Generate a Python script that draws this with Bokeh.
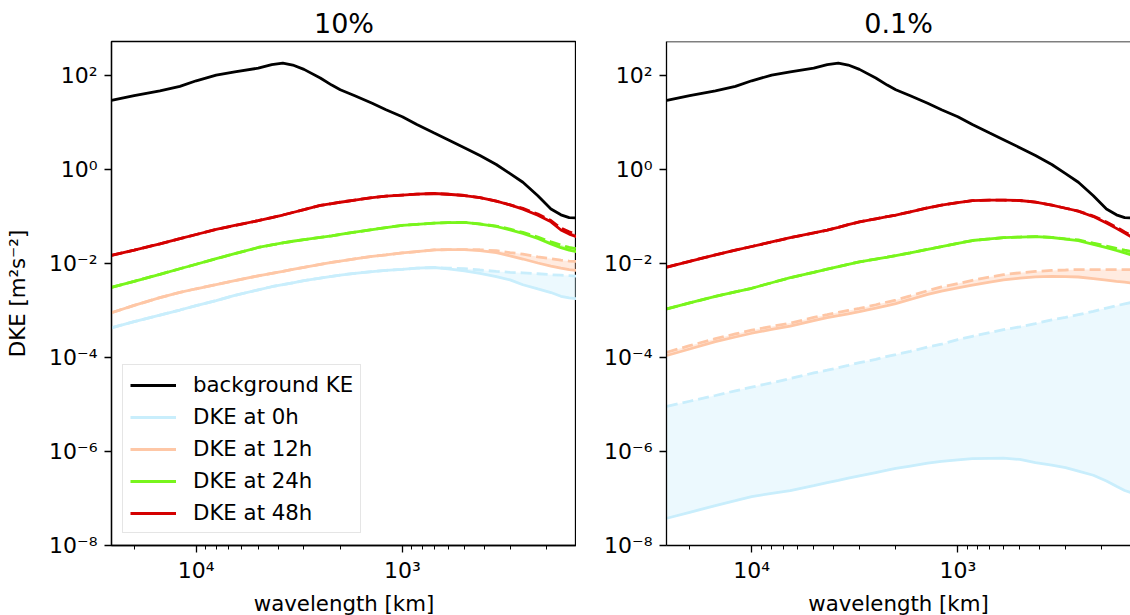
from bokeh.plotting import figure
from bokeh.models import Range1d, FixedTicker, Legend, LegendItem, Span, CustomJSTickFormatter
from bokeh.layouts import row
from bokeh.embed import file_html
from bokeh.resources import INLINE

# ---------------- data ----------------
wavelength = [25800, 20000, 15000, 12000, 10000, 8000, 6500, 5000, 4300, 3800, 3400, 3000,
              2500, 2200, 2000, 1700, 1400, 1200, 1000, 850, 700, 600, 500, 420, 350, 300,
              260, 220, 190, 170, 155, 143]

background_ke = [29.5, 37.2, 46.9, 58.3, 76.6, 101, 119, 142, 169, 183, 166, 134, 88.1, 62.1,
                 49.4, 36.7, 25.4, 18.5, 13.2, 9.0, 5.94, 4.28, 2.89, 1.97, 1.27, 0.813, 0.532,
                 0.274, 0.144, 0.108, 0.094, 0.093]

# panel "10%"
dke0_10_solid = [4.27e-4, 5.75e-4, 7.94e-4, 1.02e-3, 1.26e-3, 1.62e-3, 2.09e-3, 2.74e-3, 3.19e-3,
                 3.53e-3, 3.87e-3, 4.28e-3, 4.88e-3, 5.32e-3, 5.66e-3, 6.17e-3, 6.68e-3, 7.10e-3,
                 7.50e-3, 7.91e-3, 8.18e-3, 7.66e-3, 6.92e-3, 6.15e-3, 5.26e-3, 4.47e-3, 3.52e-3,
                 2.86e-3, 2.40e-3, 2.00e-3, 1.84e-3, 1.78e-3]
dke0_10_dashed = [4.27e-4, 5.75e-4, 7.94e-4, 1.02e-3, 1.26e-3, 1.62e-3, 2.09e-3, 2.74e-3, 3.19e-3,
                  3.53e-3, 3.87e-3, 4.28e-3, 4.88e-3, 5.32e-3, 5.66e-3, 6.17e-3, 6.68e-3, 7.10e-3,
                  7.50e-3, 7.91e-3, 8.18e-3, 7.94e-3, 7.76e-3, 7.24e-3, 6.76e-3, 6.46e-3, 6.31e-3,
                  6.03e-3, 5.75e-3, 5.62e-3, 5.50e-3, 5.37e-3]
dke12_10_solid = [8.91e-4, 1.28e-3, 1.87e-3, 2.43e-3, 2.89e-3, 3.55e-3, 4.30e-3, 5.45e-3, 6.15e-3,
                  6.79e-3, 7.43e-3, 8.26e-3, 9.51e-3, 0.0105, 0.0112, 0.0125, 0.0141, 0.0152, 0.0167,
                  0.0179, 0.0194, 0.0197, 0.0196, 0.0187, 0.0170, 0.0145, 0.0124, 0.0102, 8.79e-3,
                  7.94e-3, 7.41e-3, 7.08e-3]
dke12_10_dashed = [8.91e-4, 1.28e-3, 1.87e-3, 2.43e-3, 2.89e-3, 3.55e-3, 4.30e-3, 5.45e-3, 6.15e-3,
                   6.79e-3, 7.43e-3, 8.26e-3, 9.51e-3, 0.0105, 0.0112, 0.0125, 0.0141, 0.0152, 0.0167,
                   0.0179, 0.0194, 0.0197, 0.0197, 0.0195, 0.0186, 0.0170, 0.0158, 0.0138, 0.0126,
                   0.0117, 0.0112, 0.0110]
dke24_10_solid = [3.09e-3, 4.16e-3, 5.87e-3, 7.69e-3, 9.59e-3, 0.0126, 0.0161, 0.0218, 0.0247,
                  0.0272, 0.0296, 0.0320, 0.0357, 0.0387, 0.0413, 0.0462, 0.0525, 0.0579, 0.0647,
                  0.0678, 0.0716, 0.0736, 0.0748, 0.0687, 0.0610, 0.0519, 0.0435, 0.0339, 0.0260,
                  0.0216, 0.0191, 0.0178]
dke24_10_dashed = [3.09e-3, 4.16e-3, 5.87e-3, 7.69e-3, 9.59e-3, 0.0126, 0.0161, 0.0218, 0.0247,
                   0.0272, 0.0296, 0.0320, 0.0357, 0.0387, 0.0413, 0.0462, 0.0525, 0.0579, 0.0647,
                   0.0678, 0.0716, 0.0736, 0.0748, 0.0690, 0.0624, 0.0537, 0.0457, 0.0363, 0.0288,
                   0.0245, 0.0219, 0.0204]
dke48_10_solid = [0.0148, 0.0191, 0.0261, 0.0335, 0.0412, 0.0531, 0.0641, 0.0813, 0.0946, 0.107,
                  0.121, 0.139, 0.171, 0.187, 0.200, 0.223, 0.250, 0.270, 0.284, 0.297, 0.307,
                  0.296, 0.278, 0.251, 0.212, 0.176, 0.143, 0.106, 0.0766, 0.0513, 0.0420, 0.0372]
dke48_10_dashed = [0.0148, 0.0191, 0.0261, 0.0335, 0.0412, 0.0531, 0.0641, 0.0813, 0.0946, 0.107,
                   0.121, 0.139, 0.171, 0.187, 0.200, 0.223, 0.250, 0.270, 0.284, 0.297, 0.307,
                   0.296, 0.278, 0.251, 0.212, 0.176, 0.148, 0.112, 0.0813, 0.0562, 0.0468, 0.0417]

# panel "0.1%"
dke0_01_solid = [3.80e-8, 5.09e-8, 7.05e-8, 8.99e-8, 1.10e-7, 1.28e-7, 1.47e-7, 1.87e-7, 2.17e-7,
                 2.43e-7, 2.70e-7, 3.03e-7, 3.56e-7, 3.99e-7, 4.35e-7, 4.90e-7, 5.64e-7, 6.14e-7,
                 6.61e-7, 7.05e-7, 7.16e-7, 7.19e-7, 6.76e-7, 5.82e-7, 5.15e-7, 4.53e-7, 3.82e-7,
                 3.12e-7, 2.36e-7, 1.82e-7, 1.48e-7, 1.32e-7]
dke0_01_dashed = [9.12e-6, 1.17e-5, 1.55e-5, 1.95e-5, 2.34e-5, 2.88e-5, 3.55e-5, 4.68e-5, 5.37e-5,
                  6.03e-5, 6.76e-5, 7.76e-5, 9.12e-5, 1.05e-4, 1.15e-4, 1.35e-4, 1.66e-4, 1.91e-4,
                  2.40e-4, 2.82e-4, 3.39e-4, 3.89e-4, 4.47e-4, 5.25e-4, 6.31e-4, 7.08e-4, 8.13e-4,
                  9.55e-4, 1.12e-3, 1.26e-3, 1.38e-3, 1.48e-3]
dke12_01_solid = [1.10e-4, 1.51e-4, 2.17e-4, 2.72e-4, 3.27e-4, 3.93e-4, 4.66e-4, 6.05e-4, 7.00e-4,
                  7.73e-4, 8.47e-4, 9.38e-4, 1.12e-3, 1.27e-3, 1.40e-3, 1.71e-3, 2.19e-3, 2.58e-3,
                  3.01e-3, 3.44e-3, 3.98e-3, 4.46e-3, 4.84e-3, 5.19e-3, 5.31e-3, 5.22e-3, 5.14e-3,
                  4.74e-3, 4.41e-3, 4.16e-3, 3.98e-3, 3.80e-3]
dke12_01_dashed = [1.29e-4, 1.78e-4, 2.51e-4, 3.16e-4, 3.80e-4, 4.57e-4, 5.37e-4, 7.08e-4, 8.13e-4,
                   9.12e-4, 1.00e-3, 1.10e-3, 1.32e-3, 1.51e-3, 1.66e-3, 2.04e-3, 2.63e-3, 3.16e-3,
                   3.72e-3, 4.37e-3, 5.13e-3, 5.75e-3, 6.31e-3, 6.76e-3, 7.08e-3, 7.24e-3, 7.41e-3,
                   7.41e-3, 7.41e-3, 7.41e-3, 7.41e-3, 7.41e-3]
dke24_01_solid = [1.08e-3, 1.44e-3, 1.98e-3, 2.48e-3, 2.96e-3, 3.88e-3, 4.97e-3, 6.47e-3, 7.55e-3,
                  8.51e-3, 9.53e-3, 0.0108, 0.0124, 0.0136, 0.0146, 0.0168, 0.0199, 0.0228, 0.0268,
                  0.0307, 0.0331, 0.0352, 0.0364, 0.0372, 0.0356, 0.0330, 0.0306, 0.0255, 0.0217,
                  0.0188, 0.0167, 0.0151]
dke24_01_dashed = [1.08e-3, 1.44e-3, 1.98e-3, 2.48e-3, 2.96e-3, 3.88e-3, 4.97e-3, 6.47e-3, 7.55e-3,
                   8.51e-3, 9.53e-3, 0.0108, 0.0124, 0.0136, 0.0146, 0.0168, 0.0199, 0.0228, 0.0268,
                   0.0307, 0.0331, 0.0352, 0.0364, 0.0372, 0.0358, 0.0334, 0.0316, 0.0269, 0.0234,
                   0.0209, 0.0191, 0.0178]
dke48_01_solid = [8.36e-3, 0.0111, 0.0152, 0.0191, 0.0229, 0.0286, 0.0352, 0.0444, 0.0511, 0.0585,
                  0.0665, 0.0764, 0.0891, 0.0991, 0.107, 0.125, 0.152, 0.173, 0.196, 0.216, 0.222,
                  0.221, 0.218, 0.202, 0.174, 0.149, 0.129, 0.0991, 0.0726, 0.0556, 0.0441, 0.0363]
dke48_01_dashed = [8.36e-3, 0.0111, 0.0152, 0.0191, 0.0229, 0.0286, 0.0352, 0.0444, 0.0511, 0.0585,
                   0.0665, 0.0764, 0.0891, 0.0991, 0.107, 0.125, 0.152, 0.173, 0.196, 0.216, 0.222,
                   0.221, 0.218, 0.202, 0.174, 0.149, 0.129, 0.102, 0.0759, 0.0589, 0.0468, 0.0389]

titles = ["10%", "0.1%"]
legend_labels = ["background KE", "DKE at 0h", "DKE at 12h", "DKE at 24h", "DKE at 48h"]
y_ticks = [1e-8, 1e-6, 1e-4, 1e-2, 1e0, 1e2]
x_major_ticks = [1e3, 1e4]
x_minor_ticks = [200, 300, 400, 500, 600, 700, 800, 900,
                 2000, 3000, 4000, 5000, 6000, 7000, 8000, 9000, 20000]

# ---------------- style ----------------
FONT = "DejaVu Sans"
COLORS = ["#c9eefc", "#fec7a6", "#78f51c", "#d40000"]
LW = 2.8
DASH = "11 5"
PX_PER_DECADE = 206.1
LOG_X_LEFT = 4.411
Y_TOP = 10 ** 2.72

POW10 = CustomJSTickFormatter(code="""
const sup = {'-': '\u207b', '0': '\u2070', '1': '\u00b9', '2': '\u00b2', '3': '\u00b3',
             '4': '\u2074', '5': '\u2075', '6': '\u2076', '7': '\u2077', '8': '\u2078', '9': '\u2079'};
const e = Math.round(Math.log10(tick));
return '10' + String(e).split('').map((c) => sup[c]).join('');
""")


def make_panel(title, series, frame_width, min_left, first_px_offset, with_legend, with_ylabel, outline):
    log_start = LOG_X_LEFT + first_px_offset / PX_PER_DECADE
    x_start = 10 ** log_start
    x_end = 10 ** (log_start - frame_width / PX_PER_DECADE)
    p = figure(x_axis_type="log", y_axis_type="log",
               x_range=Range1d(x_start, x_end), y_range=Range1d(1e-8, Y_TOP),
               frame_width=frame_width, frame_height=504,
               min_border_left=min_left, min_border_right=0, min_border_top=41,
               min_border_bottom=0,
               output_backend="svg", toolbar_location=None, title=title)
    p.title.text_font = FONT
    p.title.text_font_size = "27px"
    p.title.text_font_style = "normal"
    p.title.text_color = "black"
    p.title.align = "center"
    p.title.standoff = 6
    p.background_fill_color = "white"
    p.border_fill_color = "white"
    p.xgrid.visible = False
    p.ygrid.visible = False
    if outline:
        p.outline_line_color = "black"
        p.outline_line_width = 1.3
        p.outline_line_alpha = 1.0
    else:
        p.outline_line_color = None
        p.add_layout(Span(location=Y_TOP, dimension="width", line_color="black", line_width=1.3))

    for ax in (p.xaxis[0], p.yaxis[0]):
        ax.axis_line_color = "black"
        ax.axis_line_width = 1.3
        ax.major_tick_line_color = "black"
        ax.major_tick_line_width = 1.3
        ax.minor_tick_line_color = "black"
        ax.minor_tick_line_width = 1.0
        ax.major_tick_out = 7
        ax.major_tick_in = 0
        ax.minor_tick_out = 4
        ax.minor_tick_in = 0
        ax.formatter = POW10
        ax.major_label_text_font = FONT
        ax.major_label_text_font_size = "22px"
        ax.major_label_text_color = "black"
        ax.axis_label_text_font = FONT
        ax.axis_label_text_font_size = "21.3px"
        ax.axis_label_text_font_style = "normal"
        ax.axis_label_text_color = "black"

    p.xaxis[0].ticker = FixedTicker(ticks=x_major_ticks, minor_ticks=x_minor_ticks)
    p.xaxis[0].major_label_standoff = 5
    p.xaxis[0].axis_label = "wavelength [km]"
    p.xaxis[0].axis_label_standoff = 5
    p.yaxis[0].ticker = FixedTicker(ticks=y_ticks, minor_ticks=[])
    p.yaxis[0].major_label_standoff = 7
    if with_ylabel:
        p.yaxis[0].axis_label = "DKE [m\u00b2s\u207b\u00b2]"
        p.yaxis[0].axis_label_standoff = 16

    renderers = []
    r = p.line(wavelength, background_ke, line_color="black", line_width=LW)
    renderers.append(r)
    for (solid, dashed), color in zip(series, COLORS):
        r = p.line(wavelength, solid, line_color=color, line_width=LW)
        p.line(wavelength, dashed, line_color=color, line_width=LW, line_dash=DASH)
        p.varea(x=wavelength, y1=solid, y2=dashed, fill_color=color, fill_alpha=0.35)
        renderers.append(r)

    if with_legend:
        items = [LegendItem(label=lab, renderers=[rr]) for lab, rr in zip(legend_labels, renderers)]
        legend = Legend(items=items, location=(11, 12), glyph_width=46, glyph_height=20,
                        label_standoff=17, label_height=20, label_width=150, spacing=7,
                        padding=7, margin=0,
                        label_text_font=FONT, label_text_font_size="21.3px",
                        label_text_color="black",
                        border_line_color="#cccccc", border_line_width=1.3,
                        background_fill_color="white", background_fill_alpha=0.8)
        p.add_layout(legend)
    return p


p1 = make_panel(titles[0],
                [(dke0_10_solid, dke0_10_dashed), (dke12_10_solid, dke12_10_dashed),
                 (dke24_10_solid, dke24_10_dashed), (dke48_10_solid, dke48_10_dashed)],
                frame_width=465, min_left=111, first_px_offset=0,
                with_legend=True, with_ylabel=True, outline=True)
p2 = make_panel(titles[1],
                [(dke0_01_solid, dke0_01_dashed), (dke12_01_solid, dke12_01_dashed),
                 (dke24_01_solid, dke24_01_dashed), (dke48_01_solid, dke48_01_dashed)],
                frame_width=464, min_left=90, first_px_offset=0.5,
                with_legend=False, with_ylabel=False, outline=False)

layout = row(p1, p2)
open("out.html", "w").write(file_html(layout, INLINE))
